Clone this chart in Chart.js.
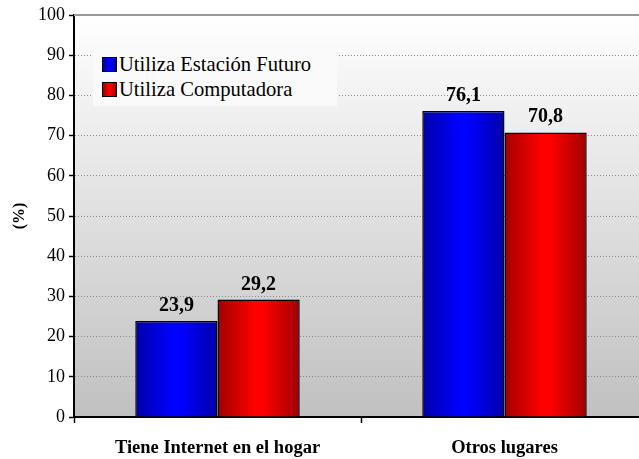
<!DOCTYPE html>
<html>
<head>
<meta charset="utf-8">
<script src="https://cdn.jsdelivr.net/npm/chart.js@4.4.0/dist/chart.umd.min.js"></script>
<style>
    html, body { margin: 0; padding: 0; background: #fff; overflow: hidden; }
    #wrap { position: relative; width: 648px; height: 459px; }
    #legend {
        position: absolute; left: 93px; top: 48px; width: 244px; height: 58px;
        background: #fafafa; padding: 4px 0 0 9px; box-sizing: border-box;
        font: 20.6px 'Liberation Serif', 'Times New Roman', serif; color: #000;
    }
    .item { display: flex; align-items: center; height: 25px; white-space: nowrap; }
    .sw { width: 13px; height: 13px; border: 1.5px solid #000; margin-right: 2px; flex: none; }
</style>
</head>
<body>
<div id="wrap">
    <canvas id="chart"></canvas>
    <div id="legend"></div>
</div>
<script>
const categories = ['Tiene Internet en el hogar', 'Otros lugares'];
const seriesNames = ['Utiliza Estación Futuro', 'Utiliza Computadora'];
const estacionFuturo = [23.9, 76.1];
const computadora = [29.2, 70.8];
const yMin = 0, yMax = 100, yStep = 10;

// dark edge / bright centre for each series
const palettes = [['#0000a8', '#0000ff'], ['#a00000', '#ff0000']];
const GROUP = 0.573;

function barGradient(c) {
    const pair = palettes[c.datasetIndex];
    const chart = c.chart;
    const x = chart.scales.x;
    if (c.type !== 'data' || !x || !chart.chartArea) return pair[1];
    const groupW = (x.width / categories.length) * GROUP;
    const barW = groupW / 2;
    const left = x.getPixelForValue(c.dataIndex) - groupW / 2 + c.datasetIndex * barW;
    const g = chart.ctx.createLinearGradient(left, 0, left + barW, 0);
    g.addColorStop(0, pair[0]);
    g.addColorStop(0.45, pair[1]);
    g.addColorStop(0.55, pair[1]);
    g.addColorStop(1, pair[0]);
    return g;
}

const plotBackground = {
    id: 'plotBackground',
    beforeDraw(chart) {
        const { ctx, chartArea: a } = chart;
        const g = ctx.createLinearGradient(0, a.top, 0, a.bottom);
        g.addColorStop(0, '#ffffff');
        g.addColorStop(1, '#c0c0c0');
        ctx.save();
        ctx.fillStyle = g;
        ctx.fillRect(a.left, a.top, a.right - a.left, a.bottom - a.top);
        ctx.restore();
    },
    beforeDatasetsDraw(chart) {
        const { ctx, chartArea: a } = chart;
        const y = chart.scales.y.getPixelForValue(yMax);
        ctx.save();
        ctx.strokeStyle = '#999';
        ctx.lineWidth = 2;
        ctx.beginPath();
        ctx.moveTo(a.left, y);
        ctx.lineTo(a.right, y);
        ctx.stroke();
        ctx.restore();
    }
};

const valueLabels = {
    id: 'valueLabels',
    afterDatasetsDraw(chart) {
        const ctx = chart.ctx;
        ctx.save();
        ctx.font = 'bold 20px "Liberation Serif"';
        ctx.textAlign = 'center';
        ctx.textBaseline = 'alphabetic';
        ctx.fillStyle = '#000';
        chart.data.datasets.forEach((ds, i) => {
            chart.getDatasetMeta(i).data.forEach((el, j) => {
                ctx.fillText(ds.data[j].toFixed(1).replace('.', ','), el.x, el.y - 10);
            });
        });
        ctx.restore();
    }
};

const serifFont = { family: 'Liberation Serif', size: 18 };

new Chart(document.getElementById('chart'), {
    type: 'bar',
    data: {
        labels: categories,
        datasets: [
            { label: seriesNames[0], data: estacionFuturo },
            { label: seriesNames[1], data: computadora }
        ].map(ds => Object.assign(ds, {
            backgroundColor: barGradient,
            borderColor: '#000',
            borderWidth: 1.5,
            categoryPercentage: GROUP,
            barPercentage: 1
        }))
    },
    options: {
        responsive: true,
        maintainAspectRatio: false,
        animation: false,
        devicePixelRatio: 1,
        layout: { padding: { top: 15, right: 0, left: 0, bottom: 0 } },
        plugins: {
            legend: { display: false },
            tooltip: { enabled: false }
        },
        scales: {
            x: {
                ticks: { color: '#000', font: { family: 'Liberation Serif', size: 18.5, weight: 'bold' }, padding: 14 },
                grid: { offset: true, drawOnChartArea: false, drawTicks: true, tickLength: 6, tickColor: '#000', tickWidth: 1.5 },
                border: { color: '#000', width: 2 },
                afterFit: s => { s.height = 42; }
            },
            y: {
                min: yMin,
                max: yMax,
                ticks: { stepSize: yStep, color: '#000', font: serifFont, padding: 4 },
                grid: { color: '#8c8c8c', lineWidth: 1, tickLength: 5, tickColor: '#000', tickWidth: 1.5, tickBorderDash: [] },
                border: { color: '#000', width: 2, dash: [1, 2] },
                title: {
                    display: true, text: '(%)', color: '#000',
                    font: { family: 'Liberation Serif', size: 16, weight: 'bold' },
                    padding: { top: 10, bottom: 0 }
                },
                afterFit: s => { s.width = 74; }
            }
        }
    },
    plugins: [plotBackground, valueLabels]
});

// legend built from the series names
document.getElementById('legend').innerHTML = seriesNames.map((n, i) =>
    `<div class="item"><span class="sw" style="background:linear-gradient(90deg, ${palettes[i][0]}, ${palettes[i][1]} 45%, ${palettes[i][1]} 55%, ${palettes[i][0]})"></span>${n}</div>`
).join('');
</script>
</body>
</html>
